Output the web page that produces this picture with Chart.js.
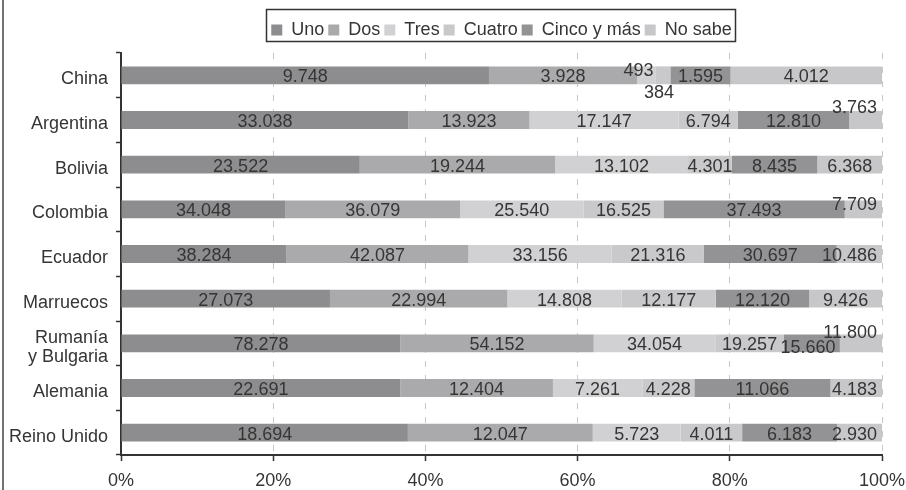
<!DOCTYPE html>
<html>
<head>
<meta charset="utf-8">
<script src="https://cdn.jsdelivr.net/npm/chart.js@4.4.1/dist/chart.umd.min.js"></script>
<style>
  html, body { margin: 0; padding: 0; background: #fff; }
  #wrap { width: 906px; height: 490px; position: relative; }
</style>
</head>
<body>
<div id="wrap"><canvas id="barChart" width="906" height="490"></canvas></div>
<script>
// datos (personas por número de hijos)
var categories = ["China", "Argentina", "Bolivia", "Colombia", "Ecuador", "Marruecos", ["Rumanía", "y Bulgaria"], "Alemania", "Reino Unido"]
var seriesNames = ["Uno", "Dos", "Tres", "Cuatro", "Cinco y más", "No sabe"]
var uno = [9748, 33038, 23522, 34048, 38284, 27073, 78278, 22691, 18694]
var dos = [3928, 13923, 19244, 36079, 42087, 22994, 54152, 12404, 12047]
var tres = [493, 17147, 13102, 25540, 33156, 14808, 34054, 7261, 5723]
var cuatro = [384, 6794, 4301, 16525, 21316, 12177, 19257, 4228, 4011]
var cinco = [1595, 12810, 8435, 37493, 30697, 12120, 15660, 11066, 6183]
var noSabe = [4012, 3763, 6368, 7709, 10486, 9426, 11800, 4183, 2930]
var xTicks = [0, 20, 40, 60, 80, 100]

var colors = ["#8d8d8f", "#aaaaac", "#d1d1d3", "#c9c9cb", "#939395", "#c7c7c9"]
var textColor = "#353535"
var fontFam = "'Liberation Sans', Arial, sans-serif"

// desplazamiento de algunas etiquetas (dataset-fila)
var labelNudge = { "2-0": [-8, -6], "3-0": [-4, 16], "5-1": [0, -14], "5-3": [0, -6], "5-6": [0, -12], "4-6": [-4, 3] }

var raw = [uno, dos, tres, cuatro, cinco, noSabe]
var totals = categories.map(function (c, i) {
  return raw.reduce(function (s, arr) { return s + arr[i] }, 0)
})

function fmt(n) {
  return String(n).replace(/\B(?=(\d{3})+(?!\d))/g, ".")
}

var datasets = raw.map(function (arr, k) {
  return {
    label: seriesNames[k],
    data: arr.map(function (v, i) { return (v / totals[i]) * 100 }),
    raw: arr,
    backgroundColor: colors[k],
    borderWidth: 0,
    barPercentage: 0.4,
    categoryPercentage: 1,
  }
})

var segLabels = {
  id: "segLabels",
  afterDatasetsDraw: function (chart) {
    var ctx = chart.ctx
    var area = chart.chartArea
    ctx.save()
    ctx.font = "18px " + fontFam
    ctx.fillStyle = textColor
    ctx.textAlign = "center"
    ctx.textBaseline = "middle"
    chart.data.datasets.forEach(function (ds, k) {
      var meta = chart.getDatasetMeta(k)
      meta.data.forEach(function (bar, i) {
        var p = bar.getProps(["x", "y", "base"], true)
        var txt = fmt(ds.raw[i])
        var w = ctx.measureText(txt).width
        var cx = (p.x + p.base) / 2
        cx = Math.min(cx, area.right - 5 - w / 2)
        var cy = p.y + 2
        var n = labelNudge[k + "-" + i]
        if (n) { cx += n[0]; cy += n[1] }
        ctx.fillText(txt, cx, cy)
      })
    })
    ctx.restore()
  },
}

// leyenda centrada sobre el área del gráfico y un poco más arriba
var legendShift = {
  id: "legendShift",
  afterLayout: function (chart) {
    var lg = chart.legend
    var area = chart.chartArea
    var dx = (area.left + area.right) / 2 - (lg.left + lg.right) / 2
    lg.left += dx
    lg.right += dx
    lg.top -= 4
    lg.bottom -= 4
    lg.legendHitBoxes.forEach(function (h) {
      h.left += dx
      h.top -= 4
    })
  },
}

var frame = {
  id: "frame",
  afterDraw: function (chart) {
    var ctx = chart.ctx
    ctx.save()
    // borde de la leyenda
    var hb = chart.legend.legendHitBoxes
    if (hb && hb.length) {
      var l = hb[0].left, r = hb[hb.length - 1].left + hb[hb.length - 1].width
      var t = hb[0].top, h = hb[0].height
      ctx.strokeStyle = "#333"
      ctx.lineWidth = 1.5
      ctx.strokeRect(Math.round(l - 5) + 0.5, Math.round(t - 8) + 0.5, Math.round(r - l + 9), Math.round(h + 14))
    }
    // línea del marco izquierdo
    ctx.strokeStyle = "#444"
    ctx.lineWidth = 1.5
    ctx.beginPath()
    ctx.moveTo(3, 0)
    ctx.lineTo(3, 490)
    ctx.stroke()
    ctx.restore()
  },
}

Chart.defaults.font.family = fontFam
Chart.defaults.color = textColor

var ctx = document.getElementById("barChart")
var chart_bar = new Chart(ctx, {
  type: "bar",
  plugins: [segLabels, legendShift, frame],
  data: {
    labels: categories,
    datasets: datasets,
  },
  options: {
    responsive: false,
    animation: false,
    indexAxis: "y",
    layout: {
      padding: { left: 0, right: 24, top: 21, bottom: 0 },
    },
    scales: {
      x: {
        stacked: true,
        min: 0,
        max: 100,
        afterBuildTicks: function (s) {
          s.ticks = xTicks.map(function (v) { return { value: v } })
        },
        afterFit: function (s) {
          s.height = 35
          s.paddingLeft = 0
          s.paddingRight = 0
        },
        ticks: {
          callback: function (v) { return v + "%" },
          font: { size: 18 },
          color: textColor,
          padding: 9,
          maxRotation: 0,
        },
        grid: {
          color: "#c8c8c8",
          lineWidth: 1,
          tickColor: "#333",
          tickLength: 6,
          tickWidth: 1.5,
          tickBorderDash: [],
        },
        border: { display: true, color: "#333", width: 2, dash: [6, 8] },
      },
      y: {
        stacked: true,
        afterFit: function (s) { s.width = 121 },
        ticks: {
          font: { size: 18, lineHeight: 1.05 },
          color: textColor,
          padding: 8,
          labelOffset: 4,
        },
        grid: {
          offset: true,
          drawOnChartArea: false,
          tickColor: "#333",
          tickLength: 5,
          tickWidth: 1.5,
        },
        border: { display: true, color: "#333", width: 2 },
      },
    },
    plugins: {
      legend: {
        position: "top",
        labels: {
          boxWidth: 11,
          boxHeight: 11,
          padding: 4,
          font: { size: 18 },
          color: textColor,
        },
      },
      tooltip: { enabled: false },
    },
  },
})
</script>
</body>
</html>
